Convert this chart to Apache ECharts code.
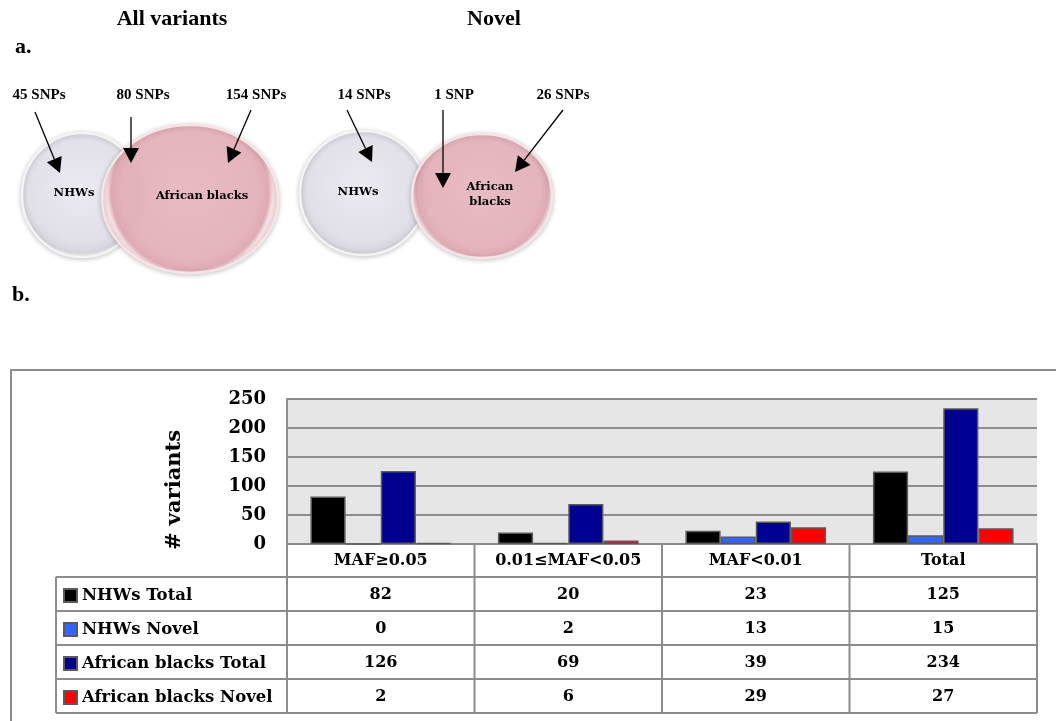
<!DOCTYPE html>
<html>
<head>
<meta charset="utf-8">
<script src="https://cdn.jsdelivr.net/npm/echarts@6/dist/echarts.min.js"></script>
<style>
  html, body { margin: 0; padding: 0; background: #ffffff; }
  #main { width: 1056px; height: 721px; }
</style>
</head>
<body>
<div id="main"></div>
<script>
// ---- data ----
const categories = ['MAF≥0.05', '0.01≤MAF<0.05', 'MAF<0.01', 'Total'];
const seriesNames = ['NHWs Total', 'NHWs Novel', 'African blacks Total', 'African blacks Novel'];
const nhwsTotal = [82, 20, 23, 125];
const nhwsNovel = [0, 2, 13, 15];
const africanTotal = [126, 69, 39, 234];
const africanNovel = [2, 6, 29, 27];
const yTicks = [0, 50, 100, 150, 200, 250];
// Venn counts: NHWs only, shared, African blacks only
const vennAllCounts = [45, 80, 154];
const vennNovelCounts = [14, 1, 26];
const vennTitles = ['All variants', 'Novel'];
const vennGroups = ['NHWs', 'African blacks'];

// ---- styles ----
const seriesData = [nhwsTotal, nhwsNovel, africanTotal, africanNovel];
const seriesColors = ['#000000', '#3366ff', '#000090', '#ff0000'];
const chartFont = 'DejaVu Serif';
const titleFont = 'Liberation Serif';
const lineGray = '#8c8c8c';

const chart = echarts.init(document.getElementById('main'), null, { renderer: 'canvas' });

const option = {
  animation: false,
  backgroundColor: '#ffffff',
  grid: {
    left: 287, right: 19, top: 399, bottom: 177,
    show: true, backgroundColor: '#e6e6e6', borderWidth: 0
  },
  legend: {
    orient: 'vertical',
    left: 58, top: 582,
    itemWidth: 13, itemHeight: 13, itemGap: 17,
    icon: 'rect',
    selectedMode: false,
    data: seriesNames,
    textStyle: { fontFamily: chartFont, fontWeight: 'bold', fontSize: 16.5, color: '#000000' }
  },
  xAxis: {
    type: 'category',
    data: categories,
    axisTick: { show: false },
    axisLine: { show: true, lineStyle: { color: lineGray, width: 2 } },
    axisLabel: { margin: 9, fontFamily: chartFont, fontWeight: 'bold', fontSize: 16, color: '#000000', interval: 0 }
  },
  yAxis: {
    type: 'value',
    min: yTicks[0], max: yTicks[yTicks.length - 1], interval: yTicks[1] - yTicks[0],
    axisLine: { show: true, lineStyle: { color: lineGray, width: 2 } },
    axisTick: { show: false },
    splitLine: { show: true, lineStyle: { color: lineGray, width: 2 } },
    axisLabel: { margin: 21, fontFamily: chartFont, fontWeight: 'bold', fontSize: 18, color: '#000000' }
  },
  series: seriesNames.map((name, i) => ({
    name: name,
    type: 'bar',
    data: seriesData[i],
    barGap: '0%',
    barCategoryGap: '25%',
    itemStyle: { color: seriesColors[i], borderColor: '#5a5a5a', borderWidth: 1.5 }
  }))
};
chart.setOption(option);

// ---- helpers for the drawn annotations ----
function arrow(x1, y1, x2, y2) {
  const dx = x2 - x1, dy = y2 - y1, len = Math.hypot(dx, dy);
  const ux = dx / len, uy = dy / len, nx = -uy, ny = ux;
  const headL = 15, headW = 8;
  const bx = x2 - ux * headL, by = y2 - uy * headL;
  return [
    { type: 'line', shape: { x1: x1, y1: y1, x2: bx, y2: by }, style: { stroke: '#000', lineWidth: 1.3 }, z: 20 },
    { type: 'polygon', shape: { points: [[x2, y2], [bx + nx * headW, by + ny * headW], [bx - nx * headW, by - ny * headW]] },
      style: { fill: '#000' }, z: 20 }
  ];
}

function circleFill(kind) {
  if (kind === 'gray') {
    return new echarts.graphic.RadialGradient(0.5, 0.45, 0.55, [
      { offset: 0, color: '#ebeaf1' },
      { offset: 0.8, color: '#e1e0e9' },
      { offset: 0.95, color: '#d6d5de' },
      { offset: 1, color: '#f3f3f6' }
    ]);
  }
  return new echarts.graphic.RadialGradient(0.5, 0.45, 0.55, [
    { offset: 0, color: 'rgba(234,184,192,0.9)' },
    { offset: 0.82, color: 'rgba(231,177,186,0.9)' },
    { offset: 0.95, color: 'rgba(225,166,176,0.9)' },
    { offset: 1, color: 'rgba(246,224,227,0.95)' }
  ]);
}

function ellipse(cx, cy, rx, ry, kind) {
  return {
    type: 'ellipse', shape: { cx: cx, cy: cy, rx: rx, ry: ry },
    style: {
      fill: circleFill(kind), stroke: kind === 'gray' ? '#f4f4f6' : '#f6e4e6', lineWidth: 2.5,
      shadowBlur: 5, shadowColor: 'rgba(0,0,0,0.2)', shadowOffsetY: 1
    },
    z: 5
  };
}

function txt(x, y, text, size, family, align, z) {
  return {
    type: 'text', x: x, y: y, z: z || 25,
    style: { text: text, fontFamily: family, fontWeight: 'bold', fontSize: size, fill: '#000',
      align: align || 'center', verticalAlign: 'middle' }
  };
}

function snpLabel(n) { return n + (n === 1 ? ' SNP' : ' SNPs'); }

function buildGraphics() {
  const els = [];

  // panel headings
  els.push(txt(172, 19, vennTitles[0], 22, titleFont));
  els.push(txt(494, 19, vennTitles[1], 22, titleFont));
  els.push(txt(15, 47, 'a.', 22, titleFont, 'left'));
  els.push(txt(12, 295, 'b.', 22, titleFont, 'left'));

  // Venn: all variants
  els.push(ellipse(82, 195, 60, 62, 'gray'));
  els.push(ellipse(190, 199, 88, 74, 'pink'));
  els.push(txt(74, 193, vennGroups[0], 11.5, chartFont));
  els.push(txt(202, 196, vennGroups[1], 11.5, chartFont));
  els.push(txt(39, 95, snpLabel(vennAllCounts[0]), 15, titleFont));
  els.push(txt(143, 95, snpLabel(vennAllCounts[1]), 15, titleFont));
  els.push(txt(256, 95, snpLabel(vennAllCounts[2]), 15, titleFont));
  els.push(...arrow(35, 112, 60, 173));
  els.push(...arrow(131, 117, 131, 163));
  els.push(...arrow(251, 110, 228, 163));

  // Venn: novel variants
  els.push(ellipse(363, 193, 63, 62, 'gray'));
  els.push(ellipse(482, 196, 70, 62, 'pink'));
  els.push(txt(358, 192, vennGroups[0], 11.5, chartFont));
  els.push(txt(490, 187, 'African', 11.5, chartFont));
  els.push(txt(490, 202, 'blacks', 11.5, chartFont));
  els.push(txt(364, 95, snpLabel(vennNovelCounts[0]), 15, titleFont));
  els.push(txt(454, 95, snpLabel(vennNovelCounts[1]), 15, titleFont));
  els.push(txt(563, 95, snpLabel(vennNovelCounts[2]), 15, titleFont));
  els.push(...arrow(347, 110, 372, 162));
  els.push(...arrow(443, 110, 443, 188));
  els.push(...arrow(563, 110, 515, 172));

  // outer frame of panel b
  els.push({ type: 'polyline', shape: { points: [[11, 721], [11, 370], [1056, 370]] },
    style: { stroke: lineGray, lineWidth: 2, fill: null }, z: 1 });

  // y-axis title
  els.push({ type: 'text', x: 175, y: 490, rotation: Math.PI / 2, z: 25,
    style: { text: '# variants', fontFamily: chartFont, fontWeight: 'bold', fontSize: 21, fill: '#000',
      align: 'center', verticalAlign: 'middle' } });

  // data table below the plot
  const centers = categories.map(c => chart.convertToPixel({ xAxisIndex: 0 }, c));
  const catW = centers[1] - centers[0];
  const bounds = [centers[0] - catW / 2].concat(centers.map(c => c + catW / 2));
  const yZero = chart.convertToPixel({ yAxisIndex: 0 }, 0);
  const headerH = 33, rowH = 34, legendLeft = 56;
  const tableTop = yZero + headerH;
  const tableBottom = tableTop + rowH * seriesNames.length;
  const lineStyle = { stroke: lineGray, lineWidth: 2 };

  bounds.forEach(x => {
    els.push({ type: 'line', shape: { x1: x, y1: yZero, x2: x, y2: tableBottom }, style: lineStyle, z: 10 });
  });
  els.push({ type: 'line', shape: { x1: legendLeft, y1: tableTop, x2: legendLeft, y2: tableBottom }, style: lineStyle, z: 10 });
  for (let k = 0; k <= seriesNames.length; k++) {
    const y = tableTop + rowH * k;
    els.push({ type: 'line', shape: { x1: legendLeft, y1: y, x2: bounds[bounds.length - 1], y2: y }, style: lineStyle, z: 10 });
  }
  seriesData.forEach((row, i) => {
    row.forEach((v, j) => {
      els.push(txt(centers[j], tableTop + rowH * i + rowH / 2 + 1, String(v), 16, chartFont));
    });
  });
  return els;
}

chart.setOption({ graphic: { elements: buildGraphics() } });
</script>
</body>
</html>
